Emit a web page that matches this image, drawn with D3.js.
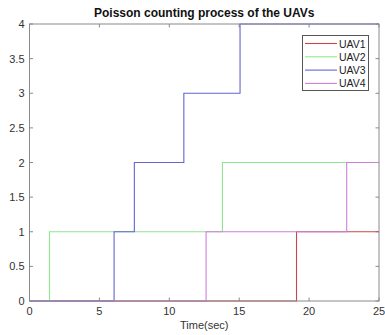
<!DOCTYPE html>
<html><head><meta charset="utf-8">
<script src="https://cdn.jsdelivr.net/npm/d3@7"></script>
<style>body{margin:0;background:#fff}svg{display:block}text{font-family:"Liberation Sans",Arial,sans-serif}</style>
</head><body><div id="chart"></div>
<script>
const seriesNames = ["UAV1","UAV2","UAV3","UAV4"];
const seriesColors = ["#c8474d","#8fe88f","#6464d2","#cc80dc"];
const uav1Times = [0, 19.1, 25];
const uav1Counts = [0, 1, 1];
const uav2Times = [0, 1.43, 13.8, 25];
const uav2Counts = [0, 1, 2, 2];
const uav3Times = [0, 6.05, 7.5, 11.04, 15.06, 25];
const uav3Counts = [0, 1, 2, 3, 4, 4];
const uav4Times = [0, 12.63, 22.69, 25];
const uav4Counts = [0, 1, 2, 2];
const xTicks = [0,5,10,15,20,25];
const yTicks = [0,0.5,1,1.5,2,2.5,3,3.5,4];
const titleText = "Poisson counting process of the UAVs";
const xLabel = "Time(sec)";

const W=385,H=335, L=29.5, R=379, T=24, B=301;
const svg=d3.select("#chart").append("svg").attr("width",W).attr("height",H);
const x=d3.scaleLinear().domain([0,25]).range([L,R]);
const y=d3.scaleLinear().domain([0,4]).range([B,T]);
const axisColor="#8a8a8a";

svg.append("defs").append("clipPath").attr("id","clip").append("rect")
  .attr("x",L).attr("y",T-1).attr("width",R-L).attr("height",B-T+2);

// ticks inside on all sides
const g=svg.append("g");
xTicks.forEach(t=>{
  g.append("line").attr("x1",x(t)).attr("x2",x(t)).attr("y1",B).attr("y2",B-3.5).attr("stroke",axisColor);
  g.append("line").attr("x1",x(t)).attr("x2",x(t)).attr("y1",T).attr("y2",T+3.5).attr("stroke",axisColor);
  g.append("text").attr("x",x(t)).attr("y",B+14).attr("text-anchor","middle").attr("font-size",11).attr("fill","#333").text(t);
});
yTicks.forEach(t=>{
  g.append("line").attr("x1",L).attr("x2",L+3.5).attr("y1",y(t)).attr("y2",y(t)).attr("stroke",axisColor);
  g.append("line").attr("x1",R).attr("x2",R-3.5).attr("y1",y(t)).attr("y2",y(t)).attr("stroke",axisColor);
  g.append("text").attr("x",L-5).attr("y",y(t)+4).attr("text-anchor","end").attr("font-size",11).attr("fill","#333").text(t);
});

const series=[[uav1Times,uav1Counts],[uav2Times,uav2Counts],[uav3Times,uav3Counts],[uav4Times,uav4Counts]];
const line=d3.line().x(d=>x(d[0])).y(d=>y(d[1])).curve(d3.curveStepAfter);
const lg=svg.append("g").attr("clip-path","url(#clip)");
series.forEach((s,i)=>{
  const pts=s[0].map((t,j)=>[t,s[1][j]]);
  lg.append("path").attr("d",line(pts)).attr("fill","none").attr("stroke",seriesColors[i]).attr("stroke-width",1.1);
});

// box
svg.append("rect").attr("x",L).attr("y",T).attr("width",R-L).attr("height",B-T)
  .attr("fill","none").attr("stroke",axisColor).attr("stroke-width",1);

// title & label
svg.append("text").attr("x",(L+R)/2).attr("y",17).attr("text-anchor","middle").attr("font-size",12).attr("font-weight","bold").attr("fill","#111").text(titleText);
svg.append("text").attr("x",(L+R)/2).attr("y",329).attr("text-anchor","middle").attr("font-size",11).attr("fill","#333").text(xLabel);

// legend
const leg=svg.append("g");
leg.append("rect").attr("x",302.5).attr("y",35.5).attr("width",66).attr("height",55).attr("fill","#fff").attr("stroke","#555").attr("stroke-width",1);
seriesNames.forEach((n,i)=>{
  const yy=43.5+i*13.3;
  leg.append("line").attr("x1",305).attr("x2",337).attr("y1",yy).attr("y2",yy).attr("stroke",seriesColors[i]).attr("stroke-width",1.1);
  leg.append("text").attr("x",339).attr("y",yy+4).attr("font-size",10.5).attr("fill","#222").text(n);
});
</script></body></html>
